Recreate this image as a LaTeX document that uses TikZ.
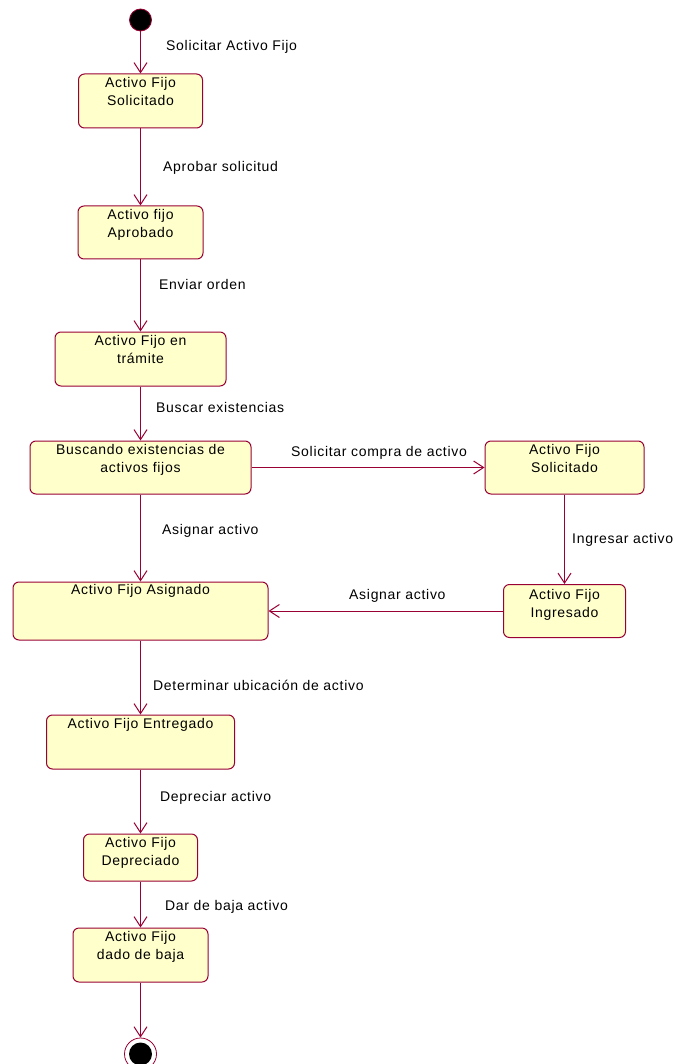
\documentclass[tikz,border=0pt]{standalone}
\usepackage{fontspec}
\setmainfont[LetterSpace=5]{Liberation Sans}
\usetikzlibrary{arrows.meta}
\definecolor{rose}{RGB}{153,0,51}
\definecolor{statefill}{RGB}{255,255,204}

\begin{document}
\begin{tikzpicture}[x=1pt,y=-1pt,
  stbox/.style={draw=rose, fill=statefill, rounded corners=6pt, line width=1pt, inner sep=0pt},
  sttext/.style={anchor=north, align=center, inner sep=0pt, font=\fontsize{14}{18}\selectfont},
  trans/.style={draw=rose, line width=1pt, -{Straight Barb[length=10pt,width=13pt]}},
  tlabel/.style={anchor=base west, inner sep=0pt, font=\fontsize{14}{18}\selectfont},
]
\useasboundingbox (0,0) rectangle (673,1064);

% initial and final pseudo-states
\node[circle, fill=black, draw=rose, line width=0.8pt, minimum size=22pt, inner sep=0pt] (ini) at (140.5,20) {};
\node[circle, draw=rose, fill=white, line width=0.8pt, minimum size=32pt, inner sep=0pt] (fin) at (140.5,1054) {};
\node[circle, fill=black, minimum size=23pt, inner sep=0pt] (finin) at (fin) {};

% states of the main column
\node[stbox, minimum width=124pt, minimum height=54pt] (b1) at (140.5,101) {};
\node[stbox, minimum width=125pt, minimum height=53pt] (b2) at (140.5,232.5) {};
\node[stbox, minimum width=171pt, minimum height=54pt] (b3) at (140.5,359) {};
\node[stbox, minimum width=221pt, minimum height=53pt] (b4) at (140.5,467.5) {};
\node[stbox, minimum width=255pt, minimum height=58pt] (b5) at (140.5,611) {};
\node[stbox, minimum width=188pt, minimum height=54pt] (b6) at (140.5,742) {};
\node[stbox, minimum width=114pt, minimum height=47pt] (b7) at (140.5,857.5) {};
\node[stbox, minimum width=135pt, minimum height=54pt] (b8) at (140.5,955) {};

% states of the purchase branch
\node[stbox, minimum width=159pt, minimum height=53pt] (r1) at (564.5,467.5) {};
\node[stbox, minimum width=122pt, minimum height=53pt] (r2) at (564.5,611) {};

% state names
\node[sttext] (b1t) at ([yshift=-4pt]b1.north) {Activo Fijo\\Solicitado};
\node[sttext] (b2t) at ([yshift=-4pt]b2.north) {Activo fijo\\Aprobado};
\node[sttext] (b3t) at ([yshift=-4pt]b3.north) {Activo Fijo en\\trámite};
\node[sttext] (b4t) at ([yshift=-4pt]b4.north) {Buscando existencias de\\activos fijos};
\node[sttext] (b5t) at ([yshift=-3pt]b5.north) {Activo Fijo Asignado};
\node[sttext] (b6t) at ([yshift=-4pt]b6.north) {Activo Fijo Entregado};
\node[sttext] (b7t) at ([yshift=-4pt]b7.north) {Activo Fijo\\Depreciado};
\node[sttext] (b8t) at ([yshift=-4pt]b8.north) {Activo Fijo\\dado de baja};
\node[sttext] (r1t) at ([yshift=-4pt]r1.north) {Activo Fijo\\Solicitado};
\node[sttext] (r2t) at ([yshift=-5pt]r2.north) {Activo Fijo\\Ingresado};

% transitions
\draw[trans] (ini) -- (b1);
\draw[trans] (b1) -- (b2);
\draw[trans] (b2) -- (b3);
\draw[trans] (b3) -- (b4);
\draw[trans] (b4) -- (r1);
\draw[trans] (r1) -- (r2);
\draw[trans] (r2) -- (b5);
\draw[trans] (b4) -- (b5);
\draw[trans] (b5) -- (b6);
\draw[trans] (b6) -- (b7);
\draw[trans] (b7) -- (b8);
\draw[trans] (b8) -- (fin);

% transition labels
\node[tlabel] (l1) at (166,51) {Solicitar Activo Fijo};
\node[tlabel] (l2) at (163,172) {Aprobar solicitud};
\node[tlabel] (l3) at (159,289) {Enviar orden};
\node[tlabel] (l4) at (156,412) {Buscar existencias};
\node[tlabel] (l5) at (291,456) {Solicitar compra de activo};
\node[tlabel] (l6) at (162,534) {Asignar activo};
\node[tlabel] (l7) at (572,543) {Ingresar activo};
\node[tlabel] (l8) at (349,599) {Asignar activo};
\node[tlabel] (l9) at (153,690) {Determinar ubicación de activo};
\node[tlabel] (l10) at (160,801) {Depreciar activo};
\node[tlabel] (l11) at (165,910) {Dar de baja activo};
\end{tikzpicture}
\end{document}
